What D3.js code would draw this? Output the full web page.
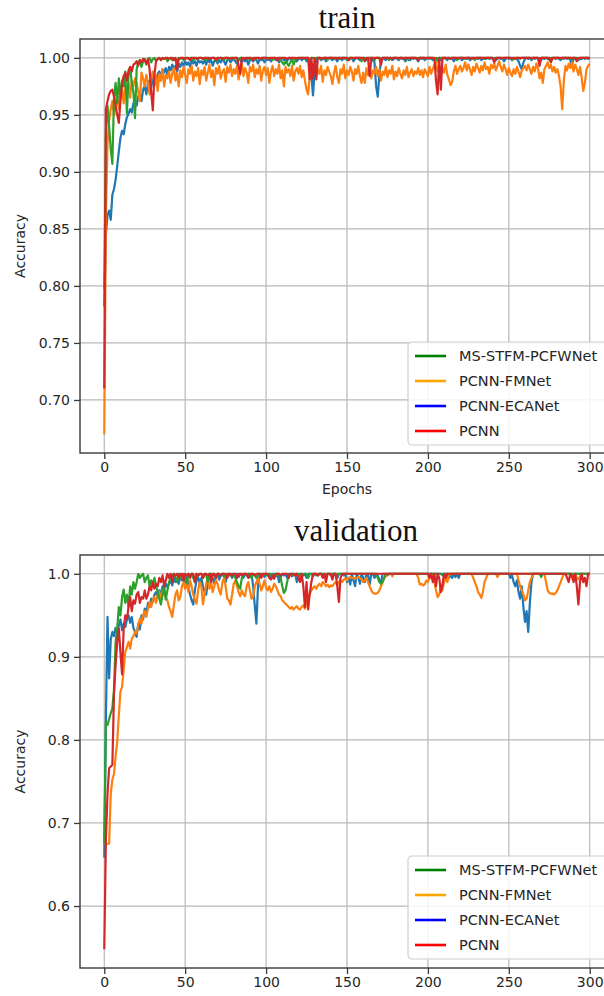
<!DOCTYPE html>
<html><head><meta charset="utf-8">
<script src="https://cdn.jsdelivr.net/npm/d3@7"></script>
<style>body{margin:0;background:#fff}svg{display:block}</style>
</head><body><svg id="c" width="604" height="996"></svg>
<script>
// Series labels (legend order) and tick labels
const seriesNames = ["MS-STFM-PCFWNet", "PCNN-FMNet", "PCNN-ECANet", "PCNN"];
const xTickValues = [0, 50, 100, 150, 200, 250, 300];
const trainYTicks = [0.70, 0.75, 0.80, 0.85, 0.90, 0.95, 1.00];
const valYTicks = [0.6, 0.7, 0.8, 0.9, 1.0];

// Accuracy x 1000, epochs 0..300 (rows of 20 epochs)
const trainECA = [
782,845,862,866,858,880,885,893,905,918,930,936,933,942,948,951,955,952,960,963,
958,966,970,962,972,975,968,978,980,974,982,985,977,986,988,983,990,987,991,985,
992,989,994,990,993,987,995,992,996,993,997,994,996,992,998,995,997,993,998,996,
997,995,998,994,999,996,998,993,997,999,995,998,996,999,997,994,998,999,996,998,
999,997,995,999,998,996,999,997,999,994,998,999,997,999,998,995,999,998,999,996,
999,998,999,997,999,1000,998,999,996,999,1000,998,999,997,1000,999,998,1000,999,997,
999,1000,998,999,1000,997,999,995,984,967,990,998,999,1000,998,999,1000,997,999,1000,
999,998,1000,999,997,1000,999,998,1000,999,1000,998,999,1000,997,999,1000,999,998,1000,
999,1000,998,999,1000,997,999,996,975,966,985,998,1000,999,998,1000,999,1000,998,999,
1000,999,998,1000,999,1000,997,999,1000,998,1000,999,1000,999,997,1000,999,1000,998,999,
1000,999,1000,998,999,1000,999,1000,998,999,1000,999,998,1000,999,1000,997,999,1000,999,
1000,998,999,1000,999,1000,998,999,1000,999,1000,999,1000,998,999,1000,999,1000,999,1000,
999,1000,998,999,1000,999,1000,997,999,1000,999,1000,998,999,1000,999,997,993,990,996,
999,1000,999,1000,998,1000,999,1000,999,1000,998,1000,999,1000,999,1000,998,999,1000,999,
1000,999,998,1000,999,1000,999,1000,998,993,1000,999,1000,998,999,999,1000,999,1000,999,
1000];
const trainFM = [
670,860,925,945,955,962,950,958,966,955,968,972,960,975,970,978,965,980,975,982,
978,970,962,987,982,975,985,978,968,983,988,976,984,971,986,980,990,975,985,982,
988,978,986,991,980,987,975,989,983,992,985,978,990,986,993,980,988,984,991,977,
989,985,992,980,987,994,983,989,976,991,986,993,982,988,990,979,992,987,994,984,
990,986,993,981,989,995,984,991,987,978,992,988,994,983,990,986,993,980,989,992,
985,991,978,988,993,984,990,986,994,982,989,975,992,987,990,984,993,980,988,991,
986,993,983,989,980,972,968,985,991,987,994,983,990,986,993,979,989,985,992,988,
984,977,987,993,983,978,990,986,994,982,989,985,992,988,980,990,986,993,984,978,
987,978,991,985,993,982,989,986,992,984,990,980,988,985,992,983,989,986,993,981,
988,984,991,986,982,989,985,992,983,987,990,984,988,986,991,985,989,983,990,987,
984,992,986,990,994,996,988,993,985,991,987,994,985,981,976,979,988,993,986,990,
993,988,991,996,989,994,990,985,992,988,995,991,987,993,989,996,990,992,986,994,
991,995,989,993,997,992,988,994,990,985,991,987,984,990,986,992,988,983,989,991,
993,989,994,990,986,992,988,995,991,982,987,978,990,993,996,991,994,988,992,987,
990,984,975,955,980,993,989,995,991,996,988,994,990,985,992,983,971,978,990,993,
995];
const trainMS = [
797,935,958,940,920,907,965,978,960,982,965,980,975,988,951,985,992,978,970,947,
990,996,998,992,997,999,994,998,1000,996,999,1000,997,999,1000,998,1000,999,1000,997,
999,1000,998,1000,999,997,1000,999,1000,998,1000,1000,999,1000,1000,998,1000,1000,999,1000,
1000,999,1000,998,1000,1000,999,1000,1000,997,1000,999,1000,1000,998,1000,1000,999,1000,1000,
999,1000,1000,998,1000,1000,999,1000,1000,999,1000,998,1000,1000,999,1000,1000,999,1000,1000,
1000,999,1000,1000,998,1000,999,1000,1000,998,996,994,997,995,993,996,999,994,998,1000,
1000,999,1000,1000,999,1000,1000,998,1000,1000,999,1000,1000,1000,999,1000,1000,1000,998,1000,
1000,1000,999,1000,1000,1000,999,1000,1000,1000,998,1000,1000,1000,999,1000,1000,1000,1000,997,
1000,1000,999,1000,1000,1000,1000,998,1000,1000,1000,999,1000,1000,1000,1000,998,1000,1000,1000,
1000,1000,999,1000,1000,1000,1000,1000,998,1000,1000,1000,1000,999,1000,1000,1000,1000,1000,999,
1000,1000,1000,1000,998,1000,997,1000,1000,1000,1000,1000,999,1000,1000,1000,1000,1000,998,1000,
1000,1000,1000,999,1000,1000,1000,1000,1000,998,1000,1000,1000,1000,1000,999,1000,1000,1000,1000,
1000,997,1000,1000,1000,1000,999,1000,1000,1000,1000,1000,998,1000,1000,1000,1000,999,1000,1000,
1000,1000,1000,1000,999,1000,1000,1000,1000,996,1000,1000,1000,1000,1000,998,1000,1000,1000,1000,
1000,1000,999,1000,1000,1000,1000,1000,1000,998,1000,1000,1000,999,1000,1000,1000,1000,1000,1000,
1000];
const trainPCNN = [
710,955,962,968,971,972,966,958,950,943,962,978,984,987,980,989,992,988,994,995,
997,993,998,996,999,998,995,999,990,970,954,985,997,999,1000,998,1000,999,1000,1000,
999,1000,1000,998,1000,990,999,1000,1000,1000,999,1000,1000,998,1000,1000,1000,999,1000,1000,
1000,999,1000,1000,1000,999,1000,1000,1000,998,1000,1000,1000,999,1000,1000,1000,1000,999,1000,
1000,1000,1000,993,986,1000,1000,999,1000,1000,1000,1000,998,1000,1000,1000,999,1000,1000,1000,
1000,1000,999,1000,1000,1000,1000,998,1000,1000,1000,1000,1000,999,1000,1000,1000,1000,1000,999,
1000,1000,1000,1000,1000,1000,1000,981,1000,982,1000,981,1000,1000,1000,999,1000,1000,1000,1000,
1000,1000,1000,1000,999,1000,1000,1000,1000,1000,1000,998,1000,1000,1000,1000,1000,1000,1000,1000,
1000,997,1000,1000,984,1000,1000,1000,1000,1000,1000,994,1000,1000,1000,1000,1000,1000,999,1000,
1000,1000,1000,1000,1000,999,1000,1000,1000,1000,1000,1000,1000,1000,998,1000,1000,1000,1000,1000,
1000,1000,1000,1000,1000,980,968,1000,972,1000,1000,1000,1000,1000,999,1000,1000,1000,1000,1000,
1000,1000,1000,1000,1000,1000,1000,999,1000,1000,1000,1000,1000,1000,1000,1000,1000,1000,1000,1000,
1000,996,1000,1000,1000,1000,1000,1000,1000,1000,1000,1000,1000,1000,999,1000,1000,1000,1000,1000,
1000,1000,1000,1000,1000,1000,1000,1000,1000,993,1000,1000,1000,1000,1000,1000,996,1000,1000,1000,
1000,1000,1000,1000,1000,1000,1000,1000,1000,1000,1000,1000,997,1000,1000,1000,1000,1000,1000,1000,
1000];

const valECA = [
658,826,948,874,921,930,925,935,928,938,945,932,940,936,945,950,941,948,935,930,
924,940,933,950,945,958,952,965,960,970,966,975,978,972,980,976,985,982,988,984,
988,992,986,995,990,993,988,997,992,995,990,998,985,975,968,963,980,992,996,988,
995,985,978,975,990,998,1000,995,988,998,1000,993,998,1000,996,990,1000,998,1000,995,
1000,998,1000,996,1000,1000,995,1000,998,1000,996,1000,985,962,940,985,1000,998,1000,996,
1000,998,1000,995,1000,1000,997,1000,990,996,1000,998,1000,995,1000,1000,997,1000,1000,990,
996,1000,1000,998,1000,995,1000,1000,1000,997,1000,1000,998,1000,1000,1000,996,1000,1000,1000,
998,1000,1000,1000,995,1000,1000,1000,998,1000,990,995,987,1000,992,985,1000,996,988,1000,
995,990,1000,998,987,1000,1000,995,1000,998,992,990,1000,1000,1000,998,1000,1000,1000,1000,
1000,1000,1000,1000,1000,1000,1000,1000,1000,1000,1000,1000,1000,1000,1000,1000,1000,1000,1000,1000,
1000,1000,1000,1000,1000,1000,1000,1000,1000,1000,1000,1000,1000,995,998,995,1000,996,1000,995,
1000,1000,1000,1000,1000,1000,1000,1000,1000,1000,1000,1000,1000,1000,1000,1000,1000,1000,1000,1000,
1000,1000,1000,1000,1000,1000,1000,1000,1000,1000,1000,995,998,990,985,992,978,970,985,960,
942,955,930,965,990,1000,1000,1000,1000,1000,1000,1000,1000,1000,1000,1000,1000,1000,1000,1000,
1000,1000,1000,1000,1000,1000,1000,1000,1000,1000,1000,1000,1000,1000,1000,1000,1000,1000,1000,1000,
1000];
const valFM = [
675,675,675,675,735,752,759,780,798,830,858,864,885,906,912,918,910,922,925,930,
928,938,946,940,950,955,948,958,966,960,968,972,965,975,978,970,980,975,972,968,
960,955,948,962,975,980,968,972,985,990,982,988,978,992,985,975,968,964,980,990,
985,963,975,988,995,982,990,978,985,992,988,980,975,990,995,985,970,968,963,975,
988,992,985,978,973,980,975,973,985,990,980,970,972,985,990,995,988,980,985,992,
983,980,985,978,982,988,985,980,975,973,968,966,964,962,960,958,960,957,959,961,
958,957,960,962,958,965,970,976,980,983,985,982,986,988,985,990,988,985,987,984,
986,985,988,990,987,990,992,990,993,995,992,995,996,995,995,994,995,996,995,993,
990,992,995,990,985,980,977,976,976,977,980,985,990,995,997,1000,1000,1000,997,1000,
1000,1000,1000,1000,1000,1000,1000,1000,1000,1000,1000,1000,1000,1000,995,987,988,986,987,992,
990,995,1000,1000,990,980,972,975,985,980,990,995,990,998,1000,1000,1000,1000,1000,1000,
1000,1000,1000,1000,1000,1000,1000,1000,995,990,985,978,975,971,978,990,995,1000,1000,1000,
1000,1000,1000,996,1000,1000,1000,1000,1000,1000,1000,1000,1000,1000,1000,1000,992,985,980,975,
968,970,980,990,995,1000,1000,1000,1000,1000,1000,1000,1000,990,980,977,976,976,975,977,
980,985,990,995,1000,1000,1000,1000,1000,995,998,1000,995,993,997,1000,1000,1000,1000,1000,
1000];
const valMS = [
675,822,818,825,832,838,860,918,935,960,950,972,981,965,975,960,985,975,990,982,
990,1000,995,998,1000,990,995,998,985,992,988,995,985,978,970,963,975,985,969,980,
990,995,998,1000,996,990,1000,995,998,1000,995,988,1000,998,1000,995,990,1000,998,1000,
1000,995,1000,998,990,1000,1000,998,1000,995,1000,1000,998,1000,1000,995,1000,1000,998,1000,
1000,995,990,985,982,995,1000,1000,998,1000,998,995,1000,998,995,1000,1000,1000,998,1000,
1000,998,1000,1000,995,1000,1000,998,1000,995,985,977,980,990,998,1000,1000,998,1000,1000,
1000,1000,998,1000,1000,1000,995,1000,1000,1000,1000,998,1000,1000,1000,1000,1000,998,1000,1000,
1000,1000,1000,1000,1000,1000,1000,1000,1000,1000,1000,1000,1000,1000,1000,1000,1000,1000,1000,1000,
1000,1000,1000,1000,1000,1000,1000,1000,1000,995,990,988,990,995,1000,1000,1000,1000,1000,1000,
1000,1000,1000,1000,1000,1000,1000,1000,1000,1000,1000,1000,1000,1000,1000,1000,1000,1000,1000,1000,
1000,1000,1000,1000,1000,1000,1000,1000,1000,998,1000,1000,1000,1000,1000,1000,1000,1000,1000,1000,
1000,1000,1000,1000,1000,1000,1000,1000,1000,1000,1000,1000,1000,1000,1000,1000,1000,1000,1000,1000,
1000,1000,1000,1000,1000,1000,1000,1000,1000,1000,1000,1000,1000,1000,1000,1000,1000,1000,1000,1000,
1000,1000,1000,1000,1000,1000,1000,1000,1000,1000,996,1000,1000,1000,1000,1000,1000,1000,1000,1000,
1000,1000,1000,1000,1000,1000,1000,1000,1000,1000,997,1000,1000,1000,1000,1000,1000,1000,1000,1000,
1000];
const valPCNN = [
548,680,735,766,768,770,855,890,918,934,905,879,935,950,945,960,972,955,968,964,
975,978,965,972,970,980,970,975,985,980,990,982,988,985,995,990,998,985,992,1000,
995,1000,990,1000,998,1000,995,1000,1000,992,1000,998,1000,995,1000,1000,990,1000,998,1000,
1000,995,1000,1000,998,1000,990,1000,1000,995,1000,1000,998,1000,1000,1000,995,1000,1000,998,
1000,1000,995,1000,1000,998,1000,1000,1000,995,1000,1000,1000,998,1000,1000,1000,995,1000,1000,
1000,1000,995,993,998,994,1000,1000,1000,998,1000,1000,1000,1000,995,1000,1000,1000,998,1000,
995,990,1000,985,960,990,957,976,990,1000,1000,1000,998,1000,1000,995,1000,990,1000,1000,
1000,993,1000,1000,985,966,995,1000,1000,1000,1000,1000,1000,1000,1000,1000,1000,1000,1000,1000,
1000,1000,1000,1000,1000,1000,1000,1000,1000,1000,1000,1000,1000,1000,1000,1000,1000,1000,1000,1000,
1000,1000,1000,1000,1000,1000,1000,1000,1000,1000,1000,1000,1000,1000,1000,1000,1000,1000,1000,1000,
1000,995,1000,990,1000,985,1000,995,978,987,1000,995,1000,1000,1000,1000,1000,1000,1000,1000,
1000,1000,1000,1000,1000,1000,1000,1000,1000,1000,1000,1000,1000,1000,1000,1000,1000,1000,1000,1000,
1000,1000,1000,1000,1000,1000,1000,1000,1000,1000,1000,1000,1000,1000,1000,1000,1000,1000,1000,1000,
1000,1000,1000,1000,1000,1000,1000,1000,1000,1000,1000,1000,1000,1000,1000,1000,1000,1000,1000,1000,
1000,1000,1000,1000,1000,1000,995,990,1000,998,990,1000,985,963,990,1000,990,995,985,1000,
1000];

// plotted line colours (matplotlib tab palette) and legend handle colours
const lineColors = {ECA: "#1f77b4", FM: "#ff7f0e", MS: "#2ca02c", PCNN: "#d62728"};
const legendColors = ["#008000", "#ffa500", "#0000ff", "#ff0000"];

const svg = d3.select("#c");
const FONT = "'DejaVu Sans', sans-serif";
const TXT = "#262626";

function panel(cfg) {
  const g = svg.append("g");
  const x = d3.scaleLinear().domain([-15, 315]).range([80, 614]);
  const all = [].concat(...cfg.series.map(s => s.data)).map(v => v / 1000);
  const lo = d3.min(all), hi = d3.max(all), pad = (hi - lo) * 0.05;
  const y = d3.scaleLinear().domain([lo - pad, hi + pad]).range([cfg.bottom, cfg.top]);
  const clipId = "clip" + cfg.id;
  g.append("clipPath").attr("id", clipId).append("rect")
    .attr("x", 80).attr("y", cfg.top).attr("width", 534).attr("height", cfg.bottom - cfg.top);

  // grid
  g.append("g").selectAll("line").data(cfg.xTicks).join("line")
    .attr("x1", d => x(d)).attr("x2", d => x(d)).attr("y1", cfg.top).attr("y2", cfg.bottom)
    .attr("stroke", "#b8b8b8").attr("stroke-width", 1.2);
  g.append("g").selectAll("line").data(cfg.yTicks).join("line")
    .attr("x1", 80).attr("x2", 614).attr("y1", d => y(d)).attr("y2", d => y(d))
    .attr("stroke", "#b8b8b8").attr("stroke-width", 1.2);

  // lines
  const line = d3.line().x((d, i) => x(i)).y(d => y(d / 1000));
  const lg = g.append("g").attr("clip-path", `url(#${clipId})`);
  cfg.series.forEach(s => {
    lg.append("path").datum(s.data).attr("d", line).attr("fill", "none")
      .attr("stroke", s.color).attr("stroke-width", 2.2).attr("stroke-linejoin", "round");
  });

  // frame
  g.append("rect").attr("x", 80).attr("y", cfg.top).attr("width", 534).attr("height", cfg.bottom - cfg.top)
    .attr("fill", "none").attr("stroke", "#3a3a3a").attr("stroke-width", 1.4);

  // axes
  const xa = g.append("g").attr("transform", `translate(0,${cfg.bottom})`)
    .call(d3.axisBottom(x).tickValues(cfg.xTicks).tickSize(6).tickPadding(3).tickFormat(d3.format("d")));
  const ya = g.append("g").attr("transform", "translate(80,0)")
    .call(d3.axisLeft(y).tickValues(cfg.yTicks).tickSize(6).tickPadding(4).tickFormat(d3.format(cfg.fmt)));
  [xa, ya].forEach(a => {
    a.select(".domain").remove();
    a.selectAll("line").attr("stroke", "#3a3a3a").attr("stroke-width", 1.3);
    a.selectAll("text").attr("font-family", FONT).attr("font-size", 14).attr("fill", TXT);
  });

  // title
  g.append("text").attr("x", cfg.titleX).attr("y", cfg.titleY).attr("text-anchor", "middle")
    .attr("font-family", "'Liberation Serif', 'Times New Roman', serif").attr("font-size", 31)
    .attr("fill", "#111").text(cfg.title);
  // y label
  g.append("text").attr("transform", `translate(25,${(cfg.top + cfg.bottom) / 2}) rotate(-90)`)
    .attr("text-anchor", "middle").attr("font-family", FONT).attr("font-size", 14).attr("fill", TXT)
    .text("Accuracy");
  if (cfg.xlabel) {
    g.append("text").attr("x", 347).attr("y", cfg.bottom + 41).attr("text-anchor", "middle")
      .attr("font-family", FONT).attr("font-size", 14).attr("fill", TXT).text(cfg.xlabel);
  }

  // legend
  const L = g.append("g").attr("transform", `translate(408,${cfg.legendTop})`);
  L.append("rect").attr("x", 0).attr("y", 0).attr("width", 230).attr("height", 103).attr("rx", 4)
    .attr("fill", "#fff").attr("fill-opacity", 0.85).attr("stroke", "#cfcfcf").attr("stroke-width", 1.2);
  seriesNames.forEach((n, i) => {
    const yy = 14 + i * 25;
    L.append("line").attr("x1", 7).attr("x2", 38).attr("y1", yy).attr("y2", yy)
      .attr("stroke", legendColors[i]).attr("stroke-width", 2.6);
    L.append("text").attr("x", 51).attr("y", yy).attr("dy", "0.36em")
      .attr("font-family", FONT).attr("font-size", 14.5).attr("fill", TXT).text(n);
  });
}

panel({
  id: "t", top: 39, bottom: 453, title: "train", titleX: 347, titleY: 28,
  xTicks: xTickValues, yTicks: trainYTicks, fmt: ".2f", xlabel: "Epochs", legendTop: 342,
  series: [
    {data: trainECA, color: lineColors.ECA},
    {data: trainFM, color: lineColors.FM},
    {data: trainMS, color: lineColors.MS},
    {data: trainPCNN, color: lineColors.PCNN}
  ]
});
panel({
  id: "v", top: 555, bottom: 968, title: "validation", titleX: 356, titleY: 541,
  xTicks: xTickValues, yTicks: valYTicks, fmt: ".1f", xlabel: null, legendTop: 856,
  series: [
    {data: valECA, color: lineColors.ECA},
    {data: valFM, color: lineColors.FM},
    {data: valMS, color: lineColors.MS},
    {data: valPCNN, color: lineColors.PCNN}
  ]
});
</script></body></html>
